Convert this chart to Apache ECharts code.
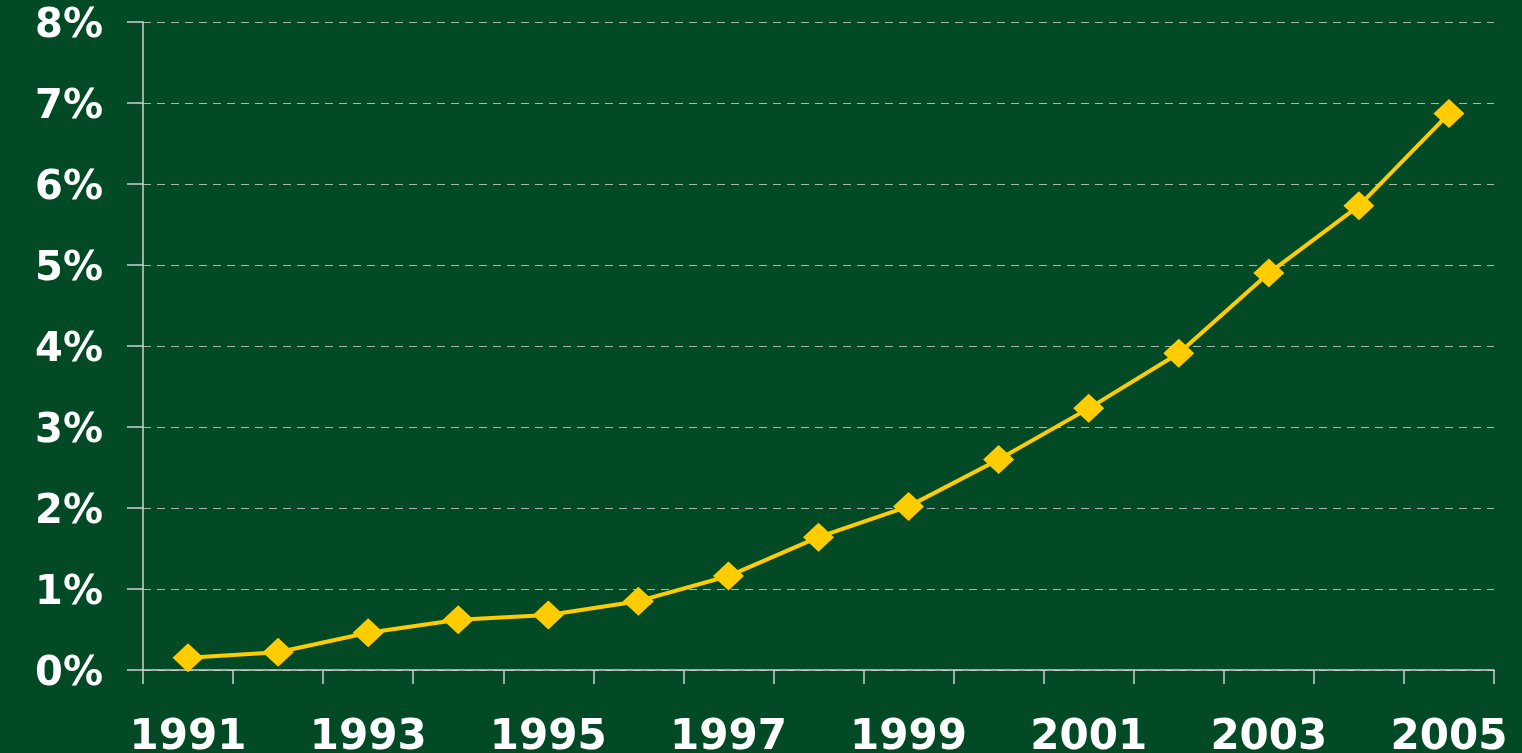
<!DOCTYPE html>
<html>
<head>
<meta charset="utf-8">
<script src="https://cdn.jsdelivr.net/npm/echarts@6/dist/echarts.min.js"></script>
<style>
html,body{margin:0;padding:0;background:#014A25;}
#chart{width:1522px;height:753px;}
</style>
</head>
<body>
<div id="chart"></div>
<script>
const years = ['1991','1992','1993','1994','1995','1996','1997','1998','1999','2000','2001','2002','2003','2004','2005'];
const shareValues = [0.15, 0.22, 0.46, 0.62, 0.68, 0.85, 1.16, 1.64, 2.02, 2.60, 3.23, 3.91, 4.90, 5.73, 6.87];
const yTicks = [0, 1, 2, 3, 4, 5, 6, 7, 8];

const chart = echarts.init(document.getElementById('chart'));
chart.setOption({
  backgroundColor: '#014A25',
  animation: false,
  grid: { left: 143, right: 28, top: 22, bottom: 83, containLabel: false, outerBoundsMode: 'none' },
  xAxis: {
    type: 'category',
    data: years,
    boundaryGap: true,
    axisLine: { lineStyle: { color: '#D0D0D0', width: 1.5 } },
    axisTick: { show: true, interval: 0, length: 14, lineStyle: { color: '#D0D0D0', width: 1.5 } },
    axisLabel: {
      interval: 1,
      margin: 47,
      color: '#FFFFFF',
      fontFamily: 'DejaVu Sans',
      fontWeight: 'bold',
      fontSize: 42
    },
    splitLine: { show: false }
  },
  yAxis: {
    type: 'value',
    min: yTicks[0],
    max: yTicks[yTicks.length - 1],
    interval: 1,
    axisLine: { show: true, lineStyle: { color: '#D0D0D0', width: 1.5 } },
    axisTick: { show: true, inside: false, length: 16, lineStyle: { color: '#D0D0D0', width: 1.5 } },
    axisLabel: {
      margin: 40,
      color: '#FFFFFF',
      fontFamily: 'DejaVu Sans',
      fontWeight: 'bold',
      fontSize: 40,
      formatter: v => '{v|' + v + '%}',
      rich: {
        v: {
          color: '#FFFFFF',
          fontFamily: 'DejaVu Sans',
          fontWeight: 'bold',
          fontSize: 40,
          padding: [10, 0, 0, 0]
        }
      }
    },
    splitLine: { show: true, lineStyle: { color: '#A9B8AE', type: [8, 6], width: 1 } }
  },
  series: [{
    type: 'line',
    data: shareValues,
    symbol: 'diamond',
    symbolSize: [31, 29],
    showAllSymbol: true,
    lineStyle: { color: '#FFCC00', width: 4 },
    itemStyle: { color: '#FFCC00' }
  }]
});
</script>
</body>
</html>
